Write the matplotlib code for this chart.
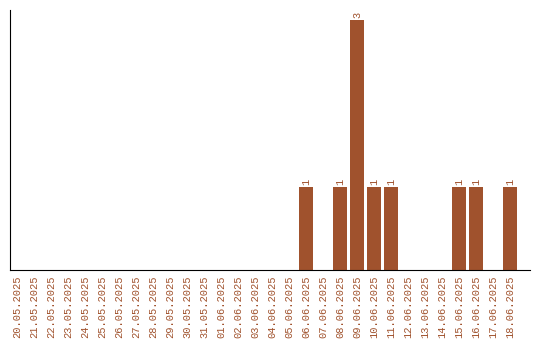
import matplotlib
matplotlib.use("Agg")
import matplotlib.pyplot as plt

# --- Data ---
dates = ["20.05.2025", "21.05.2025", "22.05.2025", "23.05.2025", "24.05.2025",
         "25.05.2025", "26.05.2025", "27.05.2025", "28.05.2025", "29.05.2025",
         "30.05.2025", "31.05.2025", "01.06.2025", "02.06.2025", "03.06.2025",
         "04.06.2025", "05.06.2025", "06.06.2025", "07.06.2025", "08.06.2025",
         "09.06.2025", "10.06.2025", "11.06.2025", "12.06.2025", "13.06.2025",
         "14.06.2025", "15.06.2025", "16.06.2025", "17.06.2025", "18.06.2025"]
counts = [0, 0, 0, 0, 0, 0, 0, 0, 0, 0,
          0, 0, 0, 0, 0, 0, 0, 1, 0, 1,
          3, 1, 1, 0, 0, 0, 1, 1, 0, 1]

color = "#A0522D"
plt.rcParams['font.family'] = ['Liberation Mono', 'DejaVu Sans Mono']

fig = plt.figure(figsize=(5.4, 3.4), dpi=100)
ax = fig.add_axes([10 / 540, 70 / 340, 520 / 540, 260 / 340])

x = list(range(len(dates)))
bars = ax.bar(x, counts, width=0.82, color=color)

# value labels on non-zero bars
for xi, c in zip(x, counts):
    if c > 0:
        ax.text(xi, c + 0.02, str(c), rotation=90, ha="center", va="bottom",
                fontsize=7.5, color=color)

ax.set_xlim(-0.41, 30.18)
ax.set_ylim(0, 3.12)
ax.set_xticks(x)
ax.set_xticklabels(dates, rotation=90, fontsize=7.5, color=color)
ax.tick_params(axis="x", length=0, pad=4)
ax.set_yticks([])
ax.spines["top"].set_visible(False)
ax.spines["right"].set_visible(False)

fig.savefig("out.png", dpi=100)
